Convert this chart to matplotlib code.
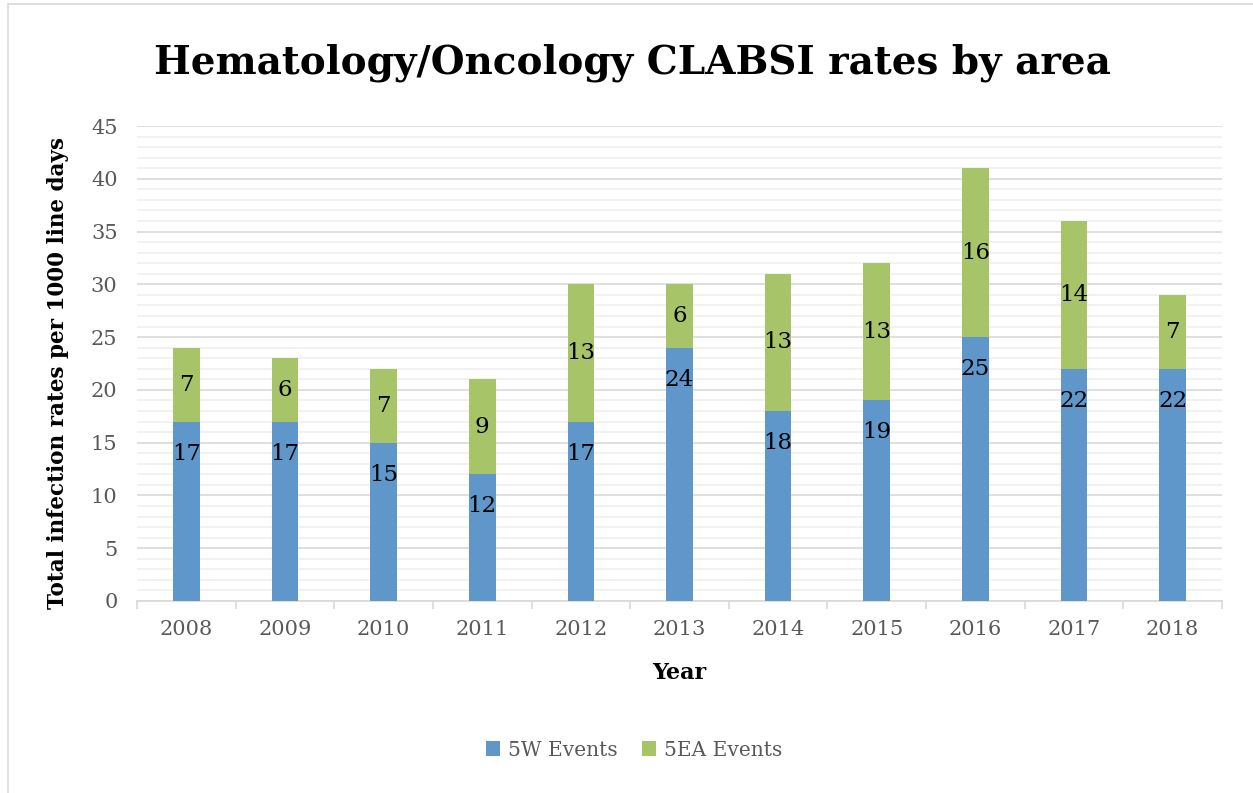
import matplotlib.pyplot as plt
from matplotlib.ticker import MultipleLocator
from matplotlib.patches import Rectangle

years = ['2008', '2009', '2010', '2011', '2012', '2013', '2014', '2015', '2016', '2017', '2018']
events_5w = [17, 17, 15, 12, 17, 24, 18, 19, 25, 22, 22]
events_5ea = [7, 6, 7, 9, 13, 6, 13, 13, 16, 14, 7]

blue = '#6097CA'
green = '#A8C469'
gray_text = '#595959'
serif = ['DejaVu Serif']

fig = plt.figure(figsize=(12.53, 7.93), dpi=100)
ax = fig.add_axes([137 / 1253, 1 - 601 / 793, (1222 - 137) / 1253, (601 - 126) / 793])

x = range(len(years))
b1 = ax.bar(x, events_5w, width=0.27, color=blue, label='5W Events', zorder=3)
b2 = ax.bar(x, events_5ea, width=0.27, bottom=events_5w, color=green, label='5EA Events', zorder=3)

# labels: blue at inside end, green centered
for rect, v in zip(b1, events_5w):
    ax.annotate(str(v), (rect.get_x() + rect.get_width() / 2, rect.get_height()),
                xytext=(0, -23), textcoords='offset points', ha='center', va='center',
                fontsize=16.5, family=serif, color='black', zorder=4)
for rect, base, v in zip(b2, events_5w, events_5ea):
    ax.text(rect.get_x() + rect.get_width() / 2, base + v / 2, str(v),
            ha='center', va='center', fontsize=16.5, family=serif, color='black', zorder=4)

ax.set_xlim(-0.5, len(years) - 0.5)
ax.set_ylim(0, 45)
ax.yaxis.set_major_locator(MultipleLocator(5))
ax.yaxis.set_minor_locator(MultipleLocator(1))
ax.grid(axis='y', which='major', color='#D9D9D9', linewidth=1.2, zorder=0)
ax.grid(axis='y', which='minor', color='#F0F0F0', linewidth=1.2, zorder=0)
ax.set_axisbelow(True)

for s in ['top', 'right', 'left']:
    ax.spines[s].set_visible(False)
ax.spines['bottom'].set_color('#D9D9D9')
ax.spines['bottom'].set_linewidth(1.2)

ax.set_xticks(x)
ax.set_xticklabels(years)
ax.set_xticks([i - 0.5 for i in range(len(years) + 1)], minor=True)
ax.tick_params(axis='x', which='major', length=0, pad=14, labelsize=15, labelcolor=gray_text)
ax.tick_params(axis='x', which='minor', length=6, width=1.2, color='#D9D9D9', direction='out')
ax.tick_params(axis='y', which='both', length=0, pad=14, labelsize=15, labelcolor=gray_text)
for lab in ax.get_xticklabels() + ax.get_yticklabels():
    lab.set_family(serif)

ax.set_xlabel('Year', fontsize=16, fontweight='bold', family=serif, labelpad=16)
ax.set_ylabel('Total infection rates per 1000 line days', fontsize=15.5, fontweight='bold',
              family=serif)
ax.yaxis.set_label_coords(-0.063, 0.48)

fig.text(632 / 1253, 1 - 63 / 793, 'Hematology/Oncology CLABSI rates by area',
         ha='center', va='center', fontsize=28, fontweight='bold', family=serif)

leg = fig.legend(handles=[b1, b2], loc='center', bbox_to_anchor=(634 / 1253, 1 - 750 / 793),
                 ncol=2, frameon=False, prop={'family': serif, 'size': 14.5},
                 handlelength=0.7, handleheight=0.7, columnspacing=1.2, handletextpad=0.4)
for t in leg.get_texts():
    t.set_color(gray_text)

# chart area border
fig.patches.append(Rectangle((8 / 1253, -0.01), 1.02, 1 - 4 / 793 + 0.01,
                             transform=fig.transFigure, fill=False,
                             edgecolor='#D9D9D9', linewidth=1.2))

fig.savefig('out.png', dpi=100)
